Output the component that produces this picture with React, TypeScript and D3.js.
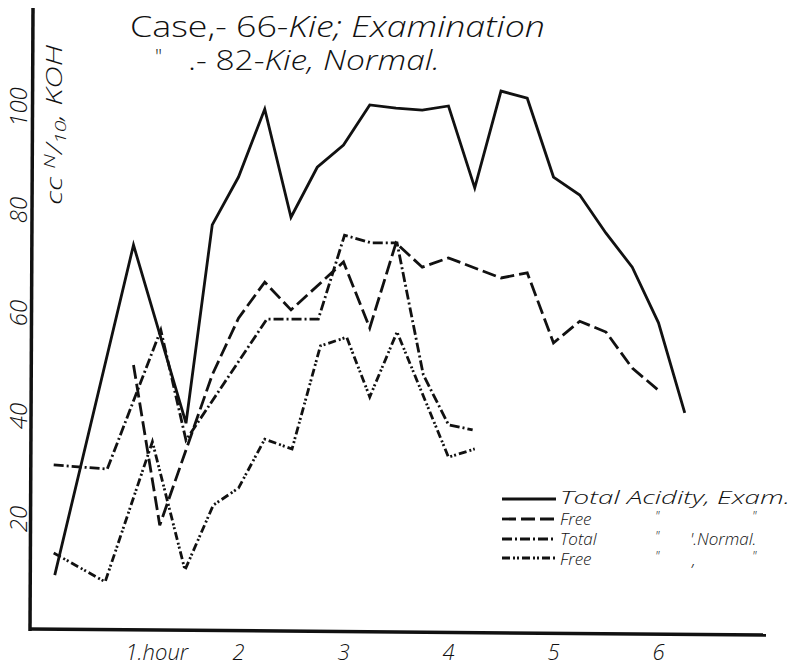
import React from 'react';
import * as d3 from 'd3';

// Quarter-hour readings (hours since test meal) and acidity in cc N/10 KOH
const totalExamHours = [0.25, 1, 1.5, 1.75, 2, 2.25, 2.5, 2.75, 3, 3.25, 3.5, 3.75, 4, 4.25, 4.5, 4.75, 5, 5.25, 5.5, 5.75, 6, 6.25];
const totalExamValues = [9.1, 73.2, 38.6, 77.1, 86.4, 99.6, 78.6, 88.3, 92.6, 100.4, 99.8, 99.4, 100.2, 84.3, 103.1, 101.7, 86.4, 82.9, 75.5, 68.9, 58.1, 40.6];

const freeExamHours = [1, 1.25, 1.5, 1.75, 2, 2.25, 2.5, 3, 3.25, 3.5, 3.75, 4, 4.5, 4.75, 5, 5.25, 5.5, 5.75, 6];
const freeExamValues = [49.9, 18.8, 33.4, 48, 59, 66, 60.6, 69.9, 57.1, 73.6, 68.9, 70.7, 66.8, 67.8, 54.2, 58.4, 56.3, 49.3, 45.0];

const totalNormalHours = [0.24, 0.75, 1.26, 1.5, 2.27, 2.76, 3.01, 3.27, 3.51, 3.76, 4.0, 4.23];
const totalNormalValues = [30.5, 29.7, 56.7, 35.3, 58.8, 58.8, 75.1, 73.6, 73.6, 48.0, 38.3, 37.3];

const freeNormalHours = [0.24, 0.73, 1.18, 1.49, 1.76, 2.0, 2.25, 2.51, 2.78, 3.03, 3.25, 3.51, 4.0, 4.25];
const freeNormalValues = [13.4, 7.8, 35.0, 10.1, 22.7, 26.0, 35.5, 33.6, 53.6, 55.3, 43.7, 56.3, 32.0, 33.6];

const hourTicks = [1, 2, 3, 4, 5, 6];
const hourTickLabels = ['1.hour', '2', '3', '4', '5', '6'];
const valueTicks = [20, 40, 60, 80, 100];

const DASH_FREE_EXAM = '14 5';
const DASH_TOTAL_NORMAL = '10 3 2 3';
const DASH_FREE_NORMAL = '8 3 2 2 2 3';

const FONT = "'Open Sans', 'DejaVu Sans', sans-serif";

export default function App() {
  const x = d3.scaleLinear().domain([0, 7]).range([28.5, 763.5]);
  const y = d3.scaleLinear().domain([0, 100]).range([622, 107]);
  const line = d3
    .line<[number, number]>()
    .x((d) => x(d[0]))
    .y((d) => y(d[1]));

  const series = [
    { hours: totalExamHours, values: totalExamValues, dash: 'none' },
    { hours: freeExamHours, values: freeExamValues, dash: DASH_FREE_EXAM },
    { hours: totalNormalHours, values: totalNormalValues, dash: DASH_TOTAL_NORMAL },
    { hours: freeNormalHours, values: freeNormalValues, dash: DASH_FREE_NORMAL },
  ];

  const legendY = [499, 519, 539, 558];
  const legendDash = ['none', DASH_FREE_EXAM, DASH_TOTAL_NORMAL, DASH_FREE_NORMAL];

  return (
    <svg
      width={809}
      height={665}
      style={{ position: 'absolute', left: 0, top: 0, background: '#fff' }}
      fontFamily={FONT}
    >
      <rect x={0} y={0} width={809} height={665} fill="#fff" />
      {/* axes */}
      <line x1={33} y1={8} x2={30} y2={631} stroke="#111" strokeWidth={3.5} />
      <line x1={29} y1={629} x2={766} y2={635} stroke="#111" strokeWidth={3.5} />

      {/* title */}
      <text x={130} y={37} fontSize={29} fontWeight={300} textLength={415} lengthAdjust="spacingAndGlyphs" fill="#111">
        Case,- 66-<tspan fontStyle="italic">Kie; Examination</tspan>
      </text>
      <text x={155} y={64} fontSize={20} fontWeight={300} fill="#111">"</text>
      <text x={188} y={70} fontSize={28} fontWeight={300} textLength={252} lengthAdjust="spacingAndGlyphs" fill="#111">
        .- 82-<tspan fontStyle="italic">Kie, Normal.</tspan>
      </text>

      {/* y labels */}
      {valueTicks.map((v) => (
        <text
          key={v}
          transform={`translate(27,${y(v)}) rotate(-90)`}
          textAnchor="middle"
          fontSize={24}
          fontWeight={300}
          fontStyle="italic"
          fill="#111"
        >
          {v}
        </text>
      ))}
      <text
        transform={`translate(62,205) rotate(-90)`}
        fontSize={22}
        fontWeight={300}
        fontStyle="italic"
        textLength={160}
        lengthAdjust="spacingAndGlyphs"
        fill="#111"
      >
        cc <tspan fontSize={15} dy={-7}>N</tspan>
        <tspan dy={7}>/</tspan>
        <tspan fontSize={15} dy={4}>10</tspan>
        <tspan dy={-4}>, KOH</tspan>
      </text>

      {/* x labels */}
      {hourTicks.map((h, i) => (
        <text
          key={h}
          x={i === 0 ? x(h) - 8 : x(h)}
          y={660}
          textAnchor={i === 0 ? 'start' : 'middle'}
          fontSize={22}
          fontWeight={300}
          fontStyle="italic"
          fill="#111"
        >
          {hourTickLabels[i]}
        </text>
      ))}

      {/* series */}
      {series.map((s, i) => (
        <path
          key={i}
          d={line(s.hours.map((h, j) => [h, s.values[j]] as [number, number])) || ''}
          fill="none"
          stroke="#111"
          strokeWidth={2.8}
          strokeDasharray={s.dash}
          strokeLinejoin="miter"
        />
      ))}

      {/* legend */}
      {legendY.map((ly, i) => (
        <line key={i} x1={502} y1={ly} x2={556} y2={ly} stroke="#111" strokeWidth={2.8} strokeDasharray={legendDash[i]} />
      ))}
      <g fontSize={17} fontWeight={300} fontStyle="italic" fill="#111">
        <text x={560} y={504} fontSize={19} textLength={230} lengthAdjust="spacingAndGlyphs">Total Acidity, Exam.</text>
        <text y={525}>
          <tspan x={560}>Free</tspan>
          <tspan x={655} fontSize={13} dy={-5}>"</tspan>
          <tspan x={752} fontSize={13}>"</tspan>
        </text>
        <text y={545}>
          <tspan x={560}>Total</tspan>
          <tspan x={655} fontSize={13} dy={-5}>"</tspan>
          <tspan x={690} dy={5}>'.Normal.</tspan>
        </text>
        <text y={565}>
          <tspan x={560}>Free</tspan>
          <tspan x={655} fontSize={13} dy={-5}>"</tspan>
          <tspan x={692} dy={6}>,</tspan>
          <tspan x={752} fontSize={13} dy={-6}>"</tspan>
        </text>
      </g>
    </svg>
  );
}
